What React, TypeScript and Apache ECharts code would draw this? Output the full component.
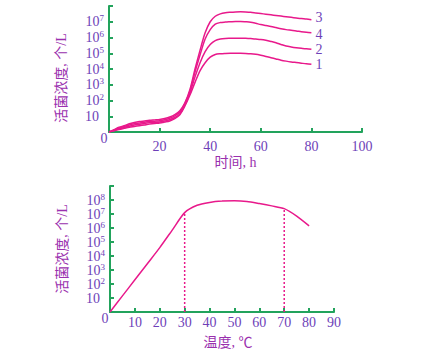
import React, { useEffect, useRef } from "react";
import * as echarts from "echarts";

const hours = [0, 2, 4, 6, 8, 10, 12, 14, 16, 18, 20, 22, 24, 26, 28, 30, 32, 34, 36, 38, 40, 42, 44, 46, 48, 50, 52, 54, 56, 58, 60, 62, 64, 66, 68, 70, 72, 74, 76, 78, 80];
const curve1 = [0, 0.08, 0.16, 0.23, 0.3, 0.35, 0.4, 0.45, 0.5, 0.54, 0.57, 0.63, 0.7, 0.85, 1.1, 1.65, 2.35, 3.15, 3.9, 4.4, 4.75, 4.92, 4.97, 4.99, 5.0, 5.0, 5.0, 4.99, 4.97, 4.93, 4.87, 4.8, 4.72, 4.64, 4.56, 4.5, 4.45, 4.41, 4.37, 4.33, 4.3];
const curve2 = [0, 0.1, 0.2, 0.29, 0.37, 0.44, 0.49, 0.54, 0.58, 0.61, 0.64, 0.7, 0.78, 0.92, 1.15, 1.7, 2.5, 3.5, 4.4, 5.1, 5.55, 5.8, 5.9, 5.94, 5.95, 5.96, 5.96, 5.95, 5.93, 5.9, 5.87, 5.82, 5.75, 5.67, 5.56, 5.46, 5.4, 5.35, 5.31, 5.28, 5.25];
const curve3 = [0, 0.15, 0.3, 0.4, 0.52, 0.6, 0.66, 0.7, 0.74, 0.77, 0.8, 0.86, 0.95, 1.1, 1.35, 1.85, 2.7, 4.0, 5.2, 6.3, 7.0, 7.35, 7.5, 7.57, 7.6, 7.62, 7.63, 7.62, 7.6, 7.56, 7.52, 7.48, 7.44, 7.4, 7.36, 7.32, 7.28, 7.24, 7.2, 7.17, 7.13];
const curve4 = [0, 0.12, 0.25, 0.35, 0.45, 0.52, 0.57, 0.62, 0.66, 0.69, 0.72, 0.78, 0.87, 1.02, 1.25, 1.8, 2.6, 3.8, 4.9, 5.9, 6.5, 6.85, 6.95, 6.98, 7.0, 7.02, 7.02, 7.0, 6.97, 6.9, 6.82, 6.76, 6.7, 6.63, 6.56, 6.5, 6.46, 6.42, 6.37, 6.33, 6.3];
const curveNames = ["1", "2", "3", "4"];

const temps = [0, 5, 10, 15, 20, 25, 30, 35, 40, 45, 50, 55, 60, 65, 70, 75, 80];
const tempCurve = [0, 1.15, 2.3, 3.45, 4.6, 5.85, 7.1, 7.62, 7.82, 7.92, 7.95, 7.9, 7.75, 7.58, 7.38, 6.85, 6.15];
const dashTemps = [30, 70];

const hourTicks = [0, 20, 40, 60, 80, 100];
const tempTicks = [0, 10, 20, 30, 40, 50, 60, 70, 80, 90];

const PINK = "#e8198b";
const GREEN = "#22a35c";
const LABEL = "#6e3fb8";
const TITLE = "#9a30ae";
const FONT = "'Liberation Serif', 'Noto Sans CJK SC', serif";

function yLabel(max: number) {
  return (v: number) => {
    if (v <= 0 || v >= max) return "";
    if (v === 1) return "{bp|10}";
    return "{b|10}{s|" + v + "}";
  };
}

const richY = {
  b: { fontSize: 14, fontFamily: FONT, color: LABEL, lineHeight: 16 },
  bp: { fontSize: 14, fontFamily: FONT, color: LABEL, lineHeight: 16, padding: [0, 5, 0, 0] },
  s: { fontSize: 9, fontFamily: FONT, color: LABEL, verticalAlign: "top", lineHeight: 10 },
};

const endOffsets = [[0, 0], [0, 0], [0, -2], [0, 2]];

export default function App() {
  const ref = useRef<HTMLDivElement>(null);
  useEffect(() => {
    if (!ref.current) return;
    const chart = echarts.init(ref.current, undefined, { renderer: "svg" });
    const curves = [curve1, curve2, curve3, curve4];
    const axisCommon = {
      axisLine: { show: true, lineStyle: { color: GREEN, width: 2 } },
      axisTick: { show: true, inside: true, length: 4, lineStyle: { color: GREEN, width: 2 } },
      splitLine: { show: false },
    };
    const option: any = {
      animation: false,
      grid: [
        { left: 109, right: 63, top: 6, bottom: 225 },
        { left: 110, right: 91, top: 186, bottom: 45 },
      ],
      xAxis: [
        {
          gridIndex: 0, type: "value", min: 0, max: 100, interval: 20, ...axisCommon,
          axisLabel: { margin: 7, color: LABEL, fontSize: 14, fontFamily: FONT,
            formatter: (v: number) => (v === hourTicks[0] ? "" : String(v)) },
          name: "时间, h", nameLocation: "middle", nameGap: 23,
          nameTextStyle: { color: TITLE, fontSize: 14, fontFamily: FONT },
        },
        {
          gridIndex: 1, type: "value", min: 0, max: 90, interval: 10, ...axisCommon,
          axisLabel: { margin: 3, color: LABEL, fontSize: 14, fontFamily: FONT,
            formatter: (v: number) => (v === tempTicks[0] ? "" : String(v)) },
          name: "温度, ℃", nameLocation: "middle", nameGap: 23,
          nameTextStyle: { color: TITLE, fontSize: 14, fontFamily: FONT, padding: [0, 0, 0, 12] },
        },
      ],
      yAxis: [
        {
          gridIndex: 0, type: "value", min: 0, max: 8, interval: 1, ...axisCommon,
          axisLabel: { margin: 5, formatter: yLabel(8), rich: richY },
          name: "活菌浓度, 个/L", nameLocation: "middle", nameGap: 41, nameRotate: 90,
          nameTextStyle: { color: TITLE, fontSize: 14, fontFamily: FONT, padding: [0, 18, 0, 0] },
        },
        {
          gridIndex: 1, type: "value", min: 0, max: 9, interval: 1, ...axisCommon,
          axisLabel: { margin: 5, formatter: yLabel(9), rich: richY },
          name: "活菌浓度, 个/L", nameLocation: "middle", nameGap: 41, nameRotate: 90,
          nameTextStyle: { color: TITLE, fontSize: 14, fontFamily: FONT, padding: [0, 0, 0, 0] },
        },
      ],
      series: [
        ...curves.map((c, i) => ({
          type: "line", xAxisIndex: 0, yAxisIndex: 0, showSymbol: false, smooth: 0.3,
          data: hours.map((h, j) => [h, c[j]]),
          lineStyle: { color: PINK, width: 1.5 },
          endLabel: { show: true, formatter: curveNames[i], color: LABEL, fontSize: 14,
            lineHeight: 11, fontFamily: FONT, distance: 4, offset: endOffsets[i] },
        })),
        {
          type: "line", xAxisIndex: 1, yAxisIndex: 1, showSymbol: false, smooth: 0.25,
          data: temps.map((t, j) => [t, tempCurve[j]]),
          lineStyle: { color: PINK, width: 1.5 },
        },
        ...dashTemps.map((t) => ({
          type: "line", xAxisIndex: 1, yAxisIndex: 1, showSymbol: false,
          data: [[t, 0], [t, tempCurve[temps.indexOf(t)]]],
          lineStyle: { color: PINK, width: 1.5, type: [2, 2] },
        })),
      ],
    };
    chart.setOption(option);
    const p0 = chart.convertToPixel({ gridIndex: 0 }, [0, 0]) as number[];
    const p1 = chart.convertToPixel({ gridIndex: 1 }, [0, 0]) as number[];
    chart.setOption({
      graphic: [
        { type: "text", x: p0[0] - 5, y: p0[1] + 6, style: { text: "0", fill: LABEL, fontSize: 14,
          fontFamily: FONT, align: "center", verticalAlign: "middle" } },
        { type: "text", x: p1[0] - 5, y: p1[1] + 6, style: { text: "0", fill: LABEL, fontSize: 14,
          fontFamily: FONT, align: "center", verticalAlign: "middle" } },
      ],
    });
    return () => chart.dispose();
  }, []);
  return <div ref={ref} style={{ width: 425, height: 357, position: "absolute", left: 0, top: 0 }} />;
}
